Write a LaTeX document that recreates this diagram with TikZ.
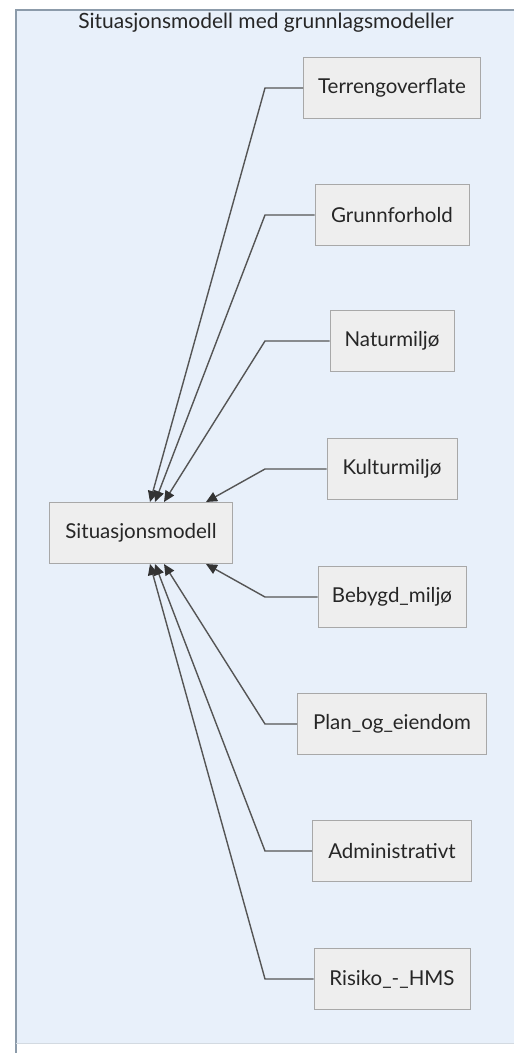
\documentclass[tikz,border=0pt]{standalone}
\usepackage{fontspec}
\setmainfont{Lato}
\usetikzlibrary{arrows.meta}
\definecolor{panelbg}{HTML}{E8F0FA}
\definecolor{panelline}{HTML}{8C9BAA}
\definecolor{boxfill}{HTML}{EEEEEE}
\definecolor{boxline}{HTML}{A8A8A8}
\definecolor{linkline}{HTML}{555555}
\begin{document}
\begin{tikzpicture}[x=1pt,y=-1pt,
  model/.style={draw=boxline,fill=boxfill,line width=1pt,minimum height=61pt,
    inner xsep=8pt,font=\fontsize{20.5}{24}\selectfont,text=black!85},
  link/.style={draw=linkline,line width=1.4pt,
    -{Triangle[length=11pt,width=10pt,color=black!80]}}]
\useasboundingbox (0,0) rectangle (514,1053);
% panel
\fill[white] (0,0) rectangle (514,1053);
\fill[panelbg] (16,10) rectangle (514,1043);
\draw[panelline,line width=1.6pt] (514,10) -- (16,10) -- (16,1053);
\draw[panelbg!80!gray,line width=0.8pt] (16,1043) -- (514,1043);
\node[font=\fontsize{21}{25}\selectfont,text=black!85] (title) at (266,23) {Situasjonsmodell med grunnlagsmodeller};
% central model
\node[model,minimum width=183pt] (sit) at (141,533) {Situasjonsmodell};
% base models
\node[model,minimum width=177pt] (terr) at (392,88) {Terrengoverflate};
\node[model,minimum width=154pt] (grunn) at (392,215) {Grunnforhold};
\node[model,minimum width=124pt] (natur) at (392,341) {Naturmiljø};
\node[model,minimum width=130pt] (kultur) at (392,469) {Kulturmiljø};
\node[model,minimum width=148pt] (bebygd) at (392,597) {Bebygd\_miljø};
\node[model,minimum width=189pt] (plan) at (392,724) {Plan\_og\_eiendom};
\node[model,minimum width=159pt] (admin) at (392,851) {Administrativt};
\node[model,minimum width=156pt] (risiko) at (392,979) {Risiko\_-\_HMS};
\coordinate (knee) at (265,0);
% connectors into the central model
\draw[link] (terr.west) -- (terr.west -| knee) -- ([xshift=9pt]sit.north);
\draw[link] (grunn.west) -- (grunn.west -| knee) -- ([xshift=14pt]sit.north);
\draw[link] (natur.west) -- (natur.west -| knee) -- ([xshift=23pt]sit.north);
\draw[link] (kultur.west) -- (kultur.west -| knee) -- ([xshift=65pt]sit.north);
\draw[link] (bebygd.west) -- (bebygd.west -| knee) -- ([xshift=65pt]sit.south);
\draw[link] (plan.west) -- (plan.west -| knee) -- ([xshift=23pt]sit.south);
\draw[link] (admin.west) -- (admin.west -| knee) -- ([xshift=14pt]sit.south);
\draw[link] (risiko.west) -- (risiko.west -| knee) -- ([xshift=9pt]sit.south);
\end{tikzpicture}
\end{document}
